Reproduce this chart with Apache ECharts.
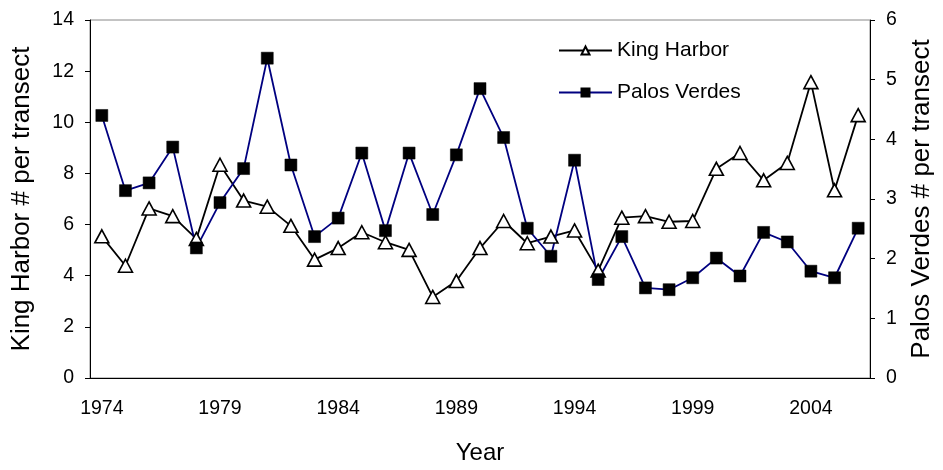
<!DOCTYPE html>
<html>
<head>
<meta charset="utf-8">
<script src="https://cdn.jsdelivr.net/npm/echarts@6/dist/echarts.min.js"></script>
<style>
  html, body { margin: 0; padding: 0; background: #fff; }
  #chart { width: 943px; height: 470px; }
</style>
</head>
<body>
<div id="chart"></div>
<script>
// years on the category axis
var years = [];
for (var y = 1974; y <= 2006; y++) years.push(String(y));

// King Harbor (left axis)
var kingHarbor = [5.54, 4.39, 6.63, 6.33, 5.44, 8.34, 6.94, 6.70, 5.95, 4.63,
                  5.08, 5.70, 5.31, 5.01, 3.17, 3.79, 5.08, 6.14, 5.27, 5.53,
                  5.77, 4.20, 6.27, 6.33, 6.11, 6.14, 8.18, 8.80, 7.73, 8.41,
                  11.57, 7.34, 10.28];

// Palos Verdes (right axis)
var palosVerdes = [4.40, 3.14, 3.27, 3.87, 2.18, 2.94, 3.51, 5.36, 3.57, 2.37,
                   2.68, 3.77, 2.47, 3.77, 2.74, 3.74, 4.85, 4.03, 2.51, 2.04,
                   3.65, 1.65, 2.37, 1.51, 1.48, 1.68, 2.01, 1.71, 2.44, 2.28,
                   1.79, 1.68, 2.51];

var fontName = 'Liberation Sans, Arial, sans-serif';

var chart = echarts.init(document.getElementById('chart'));
var option = {
  animation: false,
  textStyle: { fontFamily: fontName, color: '#000' },
  grid: {
    left: 90, right: 67, top: 20, bottom: 89,
    show: true, borderColor: '#888', borderWidth: 1
  },
  legend: {
    orient: 'vertical',
    left: 553, top: 35,
    itemWidth: 53, itemHeight: 10, itemGap: 21,
    textStyle: { fontSize: 21, color: '#000', fontFamily: fontName },
    data: ['King Harbor', 'Palos Verdes']
  },
  xAxis: {
    type: 'category',
    data: years,
    boundaryGap: true,
    name: 'Year',
    nameLocation: 'middle',
    nameGap: 63,
    nameTextStyle: { fontSize: 24, color: '#000' },
    axisLine: { lineStyle: { color: '#000', width: 1 } },
    axisTick: { interval: 4, length: 6, lineStyle: { color: '#000' } },
    axisLabel: { interval: 4, margin: 21, fontSize: 19.5, color: '#000' },
    splitLine: { show: false }
  },
  yAxis: [
    {
      type: 'value',
      min: 0, max: 14, interval: 2,
      name: 'King Harbor # per transect',
      nameLocation: 'middle',
      nameRotate: 90,
      nameGap: 55,
      nameTextStyle: { fontSize: 26, color: '#000' },
      axisLine: { show: true, lineStyle: { color: '#000', width: 1 } },
      axisTick: { show: true, length: 5, lineStyle: { color: '#000' } },
      axisLabel: { margin: 16, fontSize: 19.5, color: '#000' },
      splitLine: { show: false }
    },
    {
      type: 'value',
      position: 'right',
      min: 0, max: 6, interval: 1,
      name: 'Palos Verdes # per transect',
      nameLocation: 'middle',
      nameRotate: 90,
      nameGap: 39,
      nameTextStyle: { fontSize: 26, color: '#000' },
      axisLine: { show: true, lineStyle: { color: '#000', width: 1 } },
      axisTick: { show: true, length: 5, lineStyle: { color: '#000' } },
      axisLabel: { margin: 16, fontSize: 19.5, color: '#000' },
      splitLine: { show: false }
    }
  ],
  series: [
    {
      name: 'King Harbor',
      type: 'line',
      yAxisIndex: 0,
      data: kingHarbor,
      symbol: 'triangle',
      symbolSize: [14, 13],
      showAllSymbol: true,
      lineStyle: { color: '#000', width: 1.8 },
      itemStyle: { color: '#fff', borderColor: '#000', borderWidth: 1.6 },
      color: '#000'
    },
    {
      name: 'Palos Verdes',
      type: 'line',
      yAxisIndex: 1,
      data: palosVerdes,
      symbol: 'rect',
      symbolSize: 12,
      showAllSymbol: true,
      lineStyle: { color: '#000080', width: 1.8 },
      itemStyle: { color: '#000', borderColor: '#000', borderWidth: 0.5 },
      color: '#000'
    }
  ]
};
chart.setOption(option);
</script>
</body>
</html>
